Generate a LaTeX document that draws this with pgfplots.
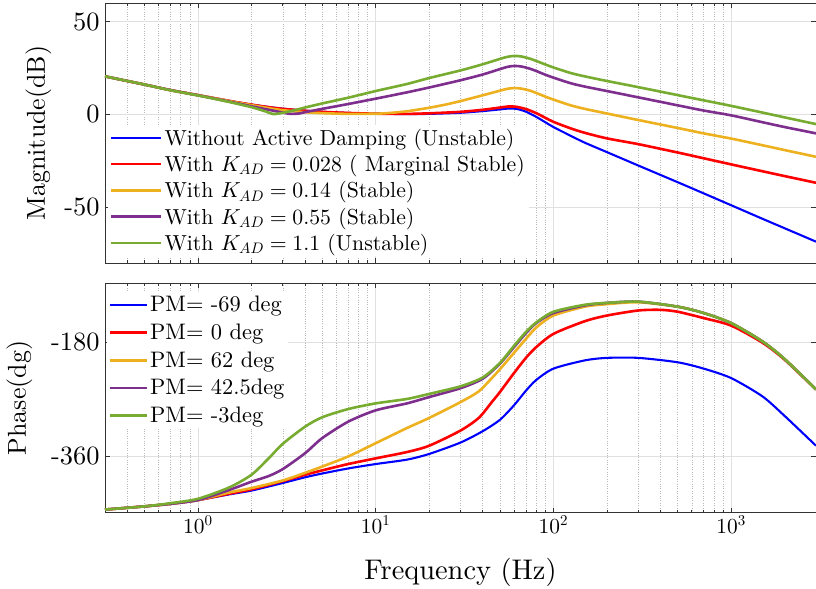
\documentclass[border=0pt]{standalone}
\usepackage{pgfplots}
\pgfplotsset{compat=1.18}
\DeclareFontShape{TU}{lmr}{m}{n}{<->\UnicodeFontFile{lmroman10-regular}{\UnicodeFontTeXLigatures}}{}
\DeclareFontShape{OT1}{cmr}{m}{n}{<->cmr10}{}
\DeclareFontShape{OML}{cmm}{m}{it}{<->cmmi10}{}
\definecolor{mblue}{rgb}{0,0,1}
\definecolor{mred}{rgb}{1,0,0}
\definecolor{morange}{rgb}{0.929,0.694,0.125}
\definecolor{mpurple}{rgb}{0.494,0.184,0.556}
\definecolor{mgreen}{rgb}{0.466,0.674,0.188}
\pgfplotsset{
  bode/.style={
    scale only axis,
    width=711bp,
    xmin=0.3, xmax=3000,
    grid=both,
    major grid style={black!12, line width=0.6bp},
    minor grid style={black!28, dotted, line width=0.5bp},
    axis line style={black!80, line width=0.8bp},
    tick style={black!80, line width=0.6bp},
    major tick length=5bp, minor tick length=3bp,
    tick align=inside,
    yticklabel style={font=\fontsize{26.5}{30}\selectfont, xshift=-2bp},
    xticklabel style={font=\fontsize{21.5}{26}\selectfont},
    ylabel style={font=\fontsize{26}{31}\selectfont},
    xlabel style={font=\fontsize{28.5}{33}\selectfont},
    every axis plot/.append style={line width=2.6bp, no markers, smooth, tension=0.45},
    legend cell align=left,
  },
}
\begin{document}
\begin{tikzpicture}
\path[use as bounding box] (0,0) rectangle (816bp,-589bp);
% ---------------- Magnitude ----------------
\begin{semilogxaxis}[bode,
  at={(105bp,-3bp)}, anchor=north west,
  height=260bp,
  ymin=-80, ymax=60,
  ytick={-50,0,50}, yticklabels={-50,0,50},
  xticklabels={},
  ylabel={Magnitude(dB)},
  ylabel style={yshift=6bp},
  legend style={at={(0.004,0.027)}, anchor=south west, fill=white, draw=none,
    font=\fontsize{21.8}{26}\selectfont, inner sep=2bp, row sep=4.5bp},
  legend image code/.code={\draw[#1] (0bp,0bp) -- (50bp,0bp);},
]
\addplot[mblue, line width=2.1bp] coordinates {
(0.3,20.5)(0.5,16.1)(0.7,13.1)(1,10.4)(1.5,7.3)(2,5.3)(2.5,4.0)(3,3.1)(4,2.0)(5,1.4)(7,0.8)(10,0.4)(15,0.2)(20,0.3)(30,0.9)(40,1.8)(50,2.7)(56,3.2)(62,3.0)(70,1.5)(80,-1.3)(90,-4.2)(100,-6.8)(125,-11.5)(150,-15.2)(200,-20.3)(300,-27.5)(500,-36.5)(700,-42.5)(1000,-48.9)(1500,-56.2)(2000,-61.3)(3000,-68.5)};
\addlegendentry{Without Active Damping (Unstable)}
\addplot[mred] coordinates {
(0.3,20.5)(0.5,16.1)(0.7,13.1)(1,10.4)(1.5,7.3)(2,5.3)(2.5,3.9)(3,3.0)(4,2.0)(5,1.4)(7,0.8)(10,0.4)(15,0.3)(20,0.6)(30,1.4)(40,2.5)(50,3.7)(56,4.3)(62,4.1)(70,2.9)(80,0.7)(90,-1.8)(100,-4.0)(125,-7.5)(150,-9.9)(200,-12.9)(300,-16.0)(500,-20.5)(700,-23.6)(1000,-26.9)(1500,-30.6)(2000,-33.2)(3000,-36.8)};
\addlegendentry{With $K_{AD}=0.028$ ( Marginal Stable)}
\addplot[morange] coordinates {
(0.3,20.5)(0.5,16.1)(0.7,13.1)(1,10.4)(1.5,7.2)(2,5.0)(2.5,3.4)(3,2.3)(4,1.2)(5,0.7)(7,0.3)(10,0.4)(12,0.8)(15,1.7)(20,3.6)(25,5.4)(30,7.2)(40,10.3)(50,12.8)(55,13.8)(60,14.2)(66,13.9)(75,12.6)(90,9.6)(100,8.0)(125,4.9)(150,3.0)(200,0.5)(300,-3.0)(500,-7.3)(700,-10.2)(1000,-13.0)(1500,-16.6)(2000,-19.2)(3000,-22.8)};
\addlegendentry{With $K_{AD}=0.14$ (Stable)}
\addplot[mpurple] coordinates {
(0.3,20.5)(0.5,16.1)(0.7,13.1)(1,10.3)(1.5,6.9)(2,4.4)(2.5,2.5)(3,1.0)(3.3,0.3)(3.7,0.5)(4,1.2)(5,3.0)(7,5.6)(10,8.5)(15,11.9)(20,14.5)(30,18.4)(40,21.5)(50,24.4)(55,25.6)(60,26.1)(66,25.8)(75,24.4)(90,21.4)(100,19.8)(125,16.8)(150,15.0)(200,12.6)(300,9.2)(500,4.9)(700,2.1)(1000,-0.5)(1500,-4.2)(2000,-6.8)(3000,-10.2)};
\addlegendentry{With $K_{AD}=0.55$ (Stable)}
\addplot[mgreen] coordinates {
(0.3,20.5)(0.5,16.1)(0.7,13.0)(1,10.2)(1.5,6.7)(2,3.9)(2.4,1.6)(2.65,0.2)(2.9,0.6)(3.3,1.7)(4,3.7)(5,5.9)(7,9.0)(10,12.6)(15,16.4)(20,19.6)(30,23.7)(40,27.0)(50,29.9)(55,31.0)(60,31.5)(66,31.2)(75,29.8)(90,26.9)(100,25.3)(125,22.3)(150,20.5)(200,18.0)(300,14.7)(500,10.4)(700,7.6)(1000,4.6)(1500,1.0)(2000,-1.6)(3000,-5.2)};
\addlegendentry{With $K_{AD}=1.1$ (Unstable)}
\end{semilogxaxis}
% ---------------- Phase ----------------
\begin{semilogxaxis}[bode,
  at={(105bp,-283.3bp)}, anchor=north west,
  height=229.4bp,
  ymin=-450, ymax=-87,
  ytick={-360,-180}, yticklabels={-360,-180},
  ylabel={Phase(dg)},
  ylabel style={yshift=12bp},
  xlabel={Frequency (Hz)},
  xlabel style={yshift=-18bp},
  legend style={at={(0.002,0.962)}, anchor=north west, fill=white, draw=none,
    font=\fontsize{22.5}{27}\selectfont, inner sep=2bp, row sep=6.7bp},
  legend image code/.code={\draw[#1] (0bp,0bp) -- (37bp,0bp);},
]
\addplot[mblue, line width=2.1bp] coordinates {
(0.3,-445)(0.5,-440)(0.7,-436)(1,-430)(1.5,-421)(2,-415)(3,-403)(4,-394)(5,-388)(7,-380)(10,-373)(15,-366)(20,-357)(30,-339)(40,-321)(50,-303)(60,-280)(70,-257)(80,-240)(100,-222)(150,-209)(200,-205)(300,-205)(500,-212)(700,-222)(1000,-237)(1500,-266)(2000,-297)(3000,-344)};
\addlegendentry{PM= -69 deg}
\addplot[mred] coordinates {
(0.3,-445)(0.5,-440)(0.7,-436)(1,-430)(1.5,-420)(2,-413)(3,-400)(4,-390)(5,-383)(7,-373)(10,-364)(15,-354)(20,-344)(30,-320)(38,-300)(45,-275)(50,-259)(60,-229)(70,-205)(80,-188)(100,-167)(150,-147)(200,-138)(300,-130)(400,-129)(500,-132)(700,-142)(1000,-154)(1500,-181)(2000,-208)(3000,-255)};
\addlegendentry{PM= 0 deg}
\addplot[morange] coordinates {
(0.3,-445)(0.5,-440)(0.7,-436)(1,-430)(1.5,-418)(2,-411)(3,-399)(4,-387)(5,-377)(7,-361)(10,-340)(15,-316)(20,-300)(30,-275)(38,-258)(45,-237)(50,-223)(60,-197)(70,-175)(80,-157)(100,-138)(150,-124)(200,-120)(300,-117)(500,-124)(700,-134)(1000,-150)(1500,-179)(2000,-207)(3000,-255)};
\addlegendentry{PM= 62 deg}
\addplot[mpurple] coordinates {
(0.3,-445)(0.5,-440)(0.7,-436)(1,-430)(1.5,-414)(2,-401)(2.5,-392)(3,-381)(4,-356)(5,-332)(7,-306)(10,-288)(15,-277)(20,-267)(30,-253)(40,-238)(50,-214)(60,-188)(70,-166)(80,-150)(100,-134)(150,-122)(200,-118)(300,-116)(500,-124)(700,-134)(1000,-150)(1500,-179)(2000,-207)(3000,-255)};
\addlegendentry{PM= 42.5deg}
\addplot[mgreen] coordinates {
(0.3,-445)(0.5,-440)(0.7,-435)(1,-428)(1.5,-410)(2,-390)(2.5,-364)(3,-341)(4,-314)(5,-299)(7,-286)(10,-277)(15,-270)(20,-262)(30,-250)(40,-236)(50,-213)(60,-186)(70,-164)(80,-149)(100,-132)(150,-121)(200,-118)(300,-116)(500,-124)(700,-134)(1000,-150)(1500,-179)(2000,-207)(3000,-255)};
\addlegendentry{PM= -3deg}
\end{semilogxaxis}
\end{tikzpicture}
\end{document}
